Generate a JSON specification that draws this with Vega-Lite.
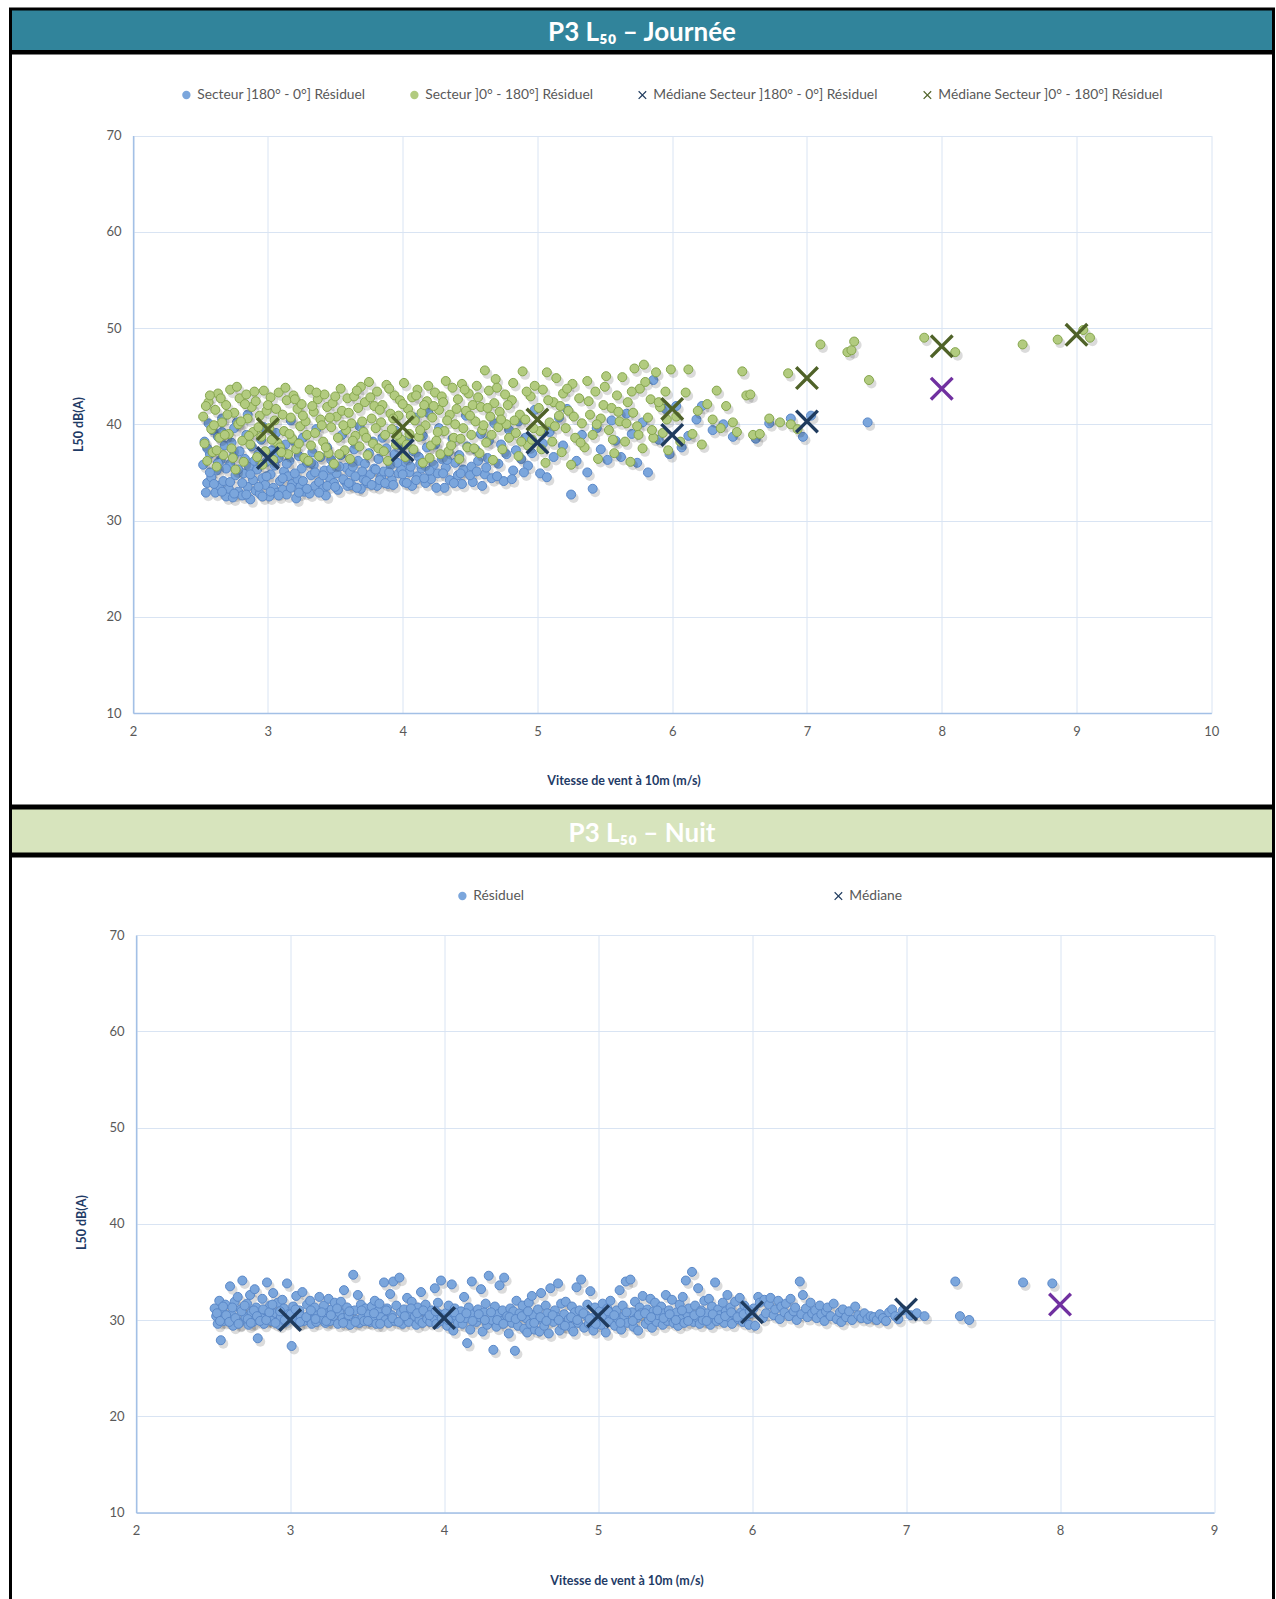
{
"$schema": "https://vega.github.io/schema/vega-lite/v6.json",
"padding": {"left": 8.5, "top": 7, "right": 0, "bottom": 0},
"background": "white",
"spacing": -3,
"config": {
  "font": "Lato",
  "view": {"stroke": null},
  "axis": {"labelFont": "Lato", "labelFontSize": 13, "labelColor": "#595959", "ticks": false, "gridColor": "#D9E4F3", "domainColor": "#A3C0E6", "domainWidth": 1.5, "titleFont": "Lato", "titleFontSize": 12.5, "titleFontWeight": "bold", "titleColor": "#1F3B66", "labelPadding": 12, "labelFlush": false},
  "legend": {"labelFont": "Lato", "labelFontSize": 13.8, "labelColor": "#595959", "labelLimit": 400}
},
"resolve": {"scale": {"color": "independent", "shape": "independent"}, "legend": {"color": "independent", "shape": "independent"}},
"datasets": {
  "h1": [{"t": "P3 L₅₀ – Journée"}],
  "h2": [{"t": "P3 L₅₀ – Nuit"}],
  "jourA": [
{"x":2.52,"y":35.8},{"x":2.53,"y":38.2},{"x":2.55,"y":33.9},{"x":2.56,"y":40.1},{"x":2.57,"y":36.9},{"x":2.58,"y":34.5},{"x":2.59,"y":39.4},{"x":2.55,"y":37.5},
{"x":2.61,"y":32.9},{"x":2.62,"y":35.2},{"x":2.63,"y":38.7},{"x":2.64,"y":33.6},{"x":2.65,"y":36.3},{"x":2.66,"y":40.6},{"x":2.67,"y":34.1},{"x":2.68,"y":37.8},{"x":2.69,"y":32.5},{"x":2.66,"y":39.2},
{"x":2.71,"y":33.3},{"x":2.72,"y":35.9},{"x":2.73,"y":38.1},{"x":2.74,"y":32.4},{"x":2.75,"y":36.8},{"x":2.76,"y":34.7},{"x":2.77,"y":40.2},{"x":2.78,"y":33.0},{"x":2.79,"y":37.2},{"x":2.75,"y":39.6},
{"x":2.81,"y":32.6},{"x":2.82,"y":34.9},{"x":2.83,"y":36.4},{"x":2.84,"y":38.9},{"x":2.85,"y":33.5},{"x":2.86,"y":35.6},{"x":2.87,"y":32.2},{"x":2.88,"y":37.7},{"x":2.89,"y":34.2},{"x":2.85,"y":41.0},
{"x":2.91,"y":33.1},{"x":2.92,"y":35.3},{"x":2.93,"y":36.9},{"x":2.94,"y":32.8},{"x":2.95,"y":38.4},{"x":2.96,"y":34.4},{"x":2.97,"y":39.7},{"x":2.98,"y":33.7},{"x":2.99,"y":36.1},
{"x":3.01,"y":32.5},{"x":3.02,"y":34.8},{"x":3.03,"y":37.3},{"x":3.04,"y":33.4},{"x":3.05,"y":35.7},{"x":3.06,"y":39.1},{"x":3.07,"y":32.9},{"x":3.08,"y":36.5},{"x":3.09,"y":34.1},
{"x":3.11,"y":33.2},{"x":3.12,"y":35.1},{"x":3.13,"y":37.9},{"x":3.14,"y":32.7},{"x":3.15,"y":34.6},{"x":3.16,"y":36.2},{"x":3.17,"y":40.4},{"x":3.18,"y":33.8},{"x":3.19,"y":38.3},
{"x":3.21,"y":32.3},{"x":3.22,"y":34.3},{"x":3.23,"y":36.7},{"x":3.24,"y":33.5},{"x":3.25,"y":35.4},{"x":3.26,"y":38.6},{"x":3.27,"y":33.0},{"x":3.29,"y":36.0},
{"x":3.31,"y":32.8},{"x":3.32,"y":34.7},{"x":3.33,"y":37.1},{"x":3.34,"y":35.8},{"x":3.35,"y":33.6},{"x":3.36,"y":39.5},{"x":3.38,"y":34.0},{"x":3.39,"y":36.6},
{"x":3.41,"y":33.3},{"x":3.42,"y":35.2},{"x":3.43,"y":32.6},{"x":3.44,"y":37.6},{"x":3.46,"y":34.4},{"x":3.47,"y":36.3},{"x":3.49,"y":33.9},
{"x":3.51,"y":34.9},{"x":3.52,"y":33.2},{"x":3.54,"y":36.8},{"x":3.55,"y":38.9},{"x":3.57,"y":34.1},{"x":3.58,"y":35.5},{"x":3.59,"y":33.6},
{"x":3.61,"y":35.0},{"x":3.62,"y":33.7},{"x":3.64,"y":37.4},{"x":3.65,"y":34.6},{"x":3.67,"y":36.2},{"x":3.68,"y":39.8},{"x":3.69,"y":33.3},
{"x":3.71,"y":34.3},{"x":3.72,"y":35.9},{"x":3.74,"y":33.9},{"x":3.75,"y":37.0},{"x":3.76,"y":34.8},{"x":3.78,"y":38.2},{"x":3.79,"y":35.4},
{"x":3.81,"y":33.6},{"x":3.82,"y":36.4},{"x":3.84,"y":34.5},{"x":3.85,"y":38.6},{"x":3.86,"y":35.1},{"x":3.88,"y":37.5},{"x":3.89,"y":33.8},
{"x":3.91,"y":35.7},{"x":3.92,"y":34.2},{"x":3.94,"y":36.9},{"x":3.95,"y":39.3},{"x":3.97,"y":34.9},{"x":3.98,"y":37.8},{"x":3.99,"y":35.3},
{"x":4.01,"y":34.0},{"x":4.02,"y":36.1},{"x":4.04,"y":38.4},{"x":4.05,"y":35.0},{"x":4.07,"y":33.6},{"x":4.08,"y":37.2},{"x":4.09,"y":40.7},
{"x":4.11,"y":34.6},{"x":4.12,"y":36.6},{"x":4.14,"y":35.4},{"x":4.15,"y":38.8},{"x":4.17,"y":33.9},{"x":4.18,"y":37.6},{"x":4.19,"y":41.2},
{"x":4.21,"y":34.3},{"x":4.23,"y":35.8},{"x":4.24,"y":37.9},{"x":4.26,"y":34.9},{"x":4.27,"y":39.6},{"x":4.29,"y":36.4},
{"x":4.31,"y":33.4},{"x":4.32,"y":35.5},{"x":4.34,"y":37.1},{"x":4.35,"y":34.2},{"x":4.37,"y":38.5},{"x":4.39,"y":36.0},
{"x":4.41,"y":34.7},{"x":4.42,"y":36.8},{"x":4.44,"y":33.8},{"x":4.45,"y":35.3},{"x":4.47,"y":40.9},{"x":4.48,"y":37.7},
{"x":4.51,"y":35.6},{"x":4.52,"y":34.0},{"x":4.54,"y":37.4},{"x":4.56,"y":36.2},{"x":4.58,"y":39.0},{"x":4.59,"y":33.6},
{"x":4.61,"y":34.8},{"x":4.63,"y":36.5},{"x":4.64,"y":38.3},{"x":4.66,"y":34.4},{"x":4.68,"y":40.1},
{"x":4.71,"y":35.9},{"x":4.73,"y":37.9},{"x":4.75,"y":34.1},{"x":4.77,"y":36.9},{"x":4.79,"y":39.4},
{"x":4.82,"y":35.2},{"x":4.84,"y":37.3},{"x":4.86,"y":40.3},{"x":4.88,"y":36.4},
{"x":4.91,"y":38.6},{"x":4.93,"y":35.7},{"x":4.96,"y":37.0},{"x":4.98,"y":41.5},
{"x":5.02,"y":34.9},{"x":5.04,"y":38.0},{"x":5.07,"y":34.5},{"x":5.09,"y":39.2},{"x":5.12,"y":36.6},{"x":5.16,"y":40.7},{"x":5.19,"y":37.8},{"x":5.22,"y":41.6},{"x":5.25,"y":32.7},{"x":5.29,"y":36.2},{"x":5.33,"y":38.9},{"x":5.37,"y":35.0},{"x":5.41,"y":33.3},{"x":5.44,"y":39.6},{"x":5.47,"y":37.4},
{"x":5.52,"y":36.3},{"x":5.55,"y":40.4},{"x":5.58,"y":38.3},{"x":5.62,"y":36.6},{"x":5.66,"y":41.1},{"x":5.7,"y":39.0},{"x":5.74,"y":36.0},{"x":5.78,"y":40.2},{"x":5.82,"y":35.0},{"x":5.86,"y":44.6},{"x":5.9,"y":38.4},{"x":5.95,"y":41.6},{"x":5.98,"y":36.9},
{"x":6.03,"y":41.9},{"x":6.07,"y":37.6},{"x":6.12,"y":38.8},{"x":6.18,"y":40.5},{"x":6.22,"y":41.9},{"x":6.3,"y":39.4},{"x":6.38,"y":40.0},{"x":6.45,"y":38.7},
{"x":6.62,"y":38.5},{"x":6.72,"y":40.1},{"x":6.88,"y":40.6},{"x":6.97,"y":38.7},{"x":7.03,"y":40.9},{"x":7.45,"y":40.2},
{"x":2.54,"y":32.9},{"x":2.57,"y":35.0},{"x":2.6,"y":33.8},{"x":2.63,"y":36.0},{"x":2.66,"y":33.0},{"x":2.69,"y":35.4},{"x":2.72,"y":34.0},{"x":2.75,"y":32.8},{"x":2.78,"y":35.3},{"x":2.81,"y":33.9},
{"x":2.84,"y":32.7},{"x":2.87,"y":34.8},{"x":2.9,"y":36.2},{"x":2.93,"y":33.5},{"x":2.96,"y":32.5},{"x":2.99,"y":34.6},{"x":3.02,"y":33.0},{"x":3.05,"y":36.9},{"x":3.08,"y":32.6},{"x":3.11,"y":34.4},
{"x":3.14,"y":35.9},{"x":3.17,"y":33.4},{"x":3.2,"y":34.9},{"x":3.23,"y":32.9},{"x":3.26,"y":34.1},{"x":3.29,"y":33.3},{"x":3.32,"y":36.0},{"x":3.35,"y":35.0},{"x":3.38,"y":32.9},{"x":3.41,"y":34.7},
{"x":3.44,"y":33.6},{"x":3.47,"y":35.4},{"x":3.5,"y":33.5},{"x":3.53,"y":35.6},{"x":3.56,"y":34.3},{"x":3.6,"y":33.9},{"x":3.63,"y":35.6},{"x":3.66,"y":33.4},{"x":3.7,"y":35.1},{"x":3.73,"y":34.1},
{"x":3.77,"y":33.7},{"x":3.8,"y":35.3},{"x":3.83,"y":34.2},{"x":3.87,"y":33.9},{"x":3.9,"y":35.0},{"x":3.93,"y":33.7},{"x":3.96,"y":36.0},{"x":4.0,"y":34.8},{"x":4.03,"y":33.9},{"x":4.06,"y":35.6},
{"x":4.1,"y":34.2},{"x":4.13,"y":35.9},{"x":4.16,"y":34.4},{"x":4.2,"y":35.2},{"x":4.25,"y":33.4},{"x":4.3,"y":34.9},{"x":4.33,"y":36.3},{"x":4.38,"y":33.9},{"x":4.43,"y":34.9},{"x":4.5,"y":34.7},
{"x":4.55,"y":35.1},{"x":4.62,"y":35.5},{"x":4.7,"y":34.6},{"x":4.81,"y":34.3},{"x":4.9,"y":35.0}
  ],
  "jourB": [
{"x":2.52,"y":40.8},{"x":2.53,"y":38.0},{"x":2.55,"y":36.2},{"x":2.56,"y":42.3},{"x":2.58,"y":39.5},{"x":2.59,"y":37.1},
{"x":2.61,"y":41.5},{"x":2.62,"y":35.6},{"x":2.63,"y":43.2},{"x":2.64,"y":38.6},{"x":2.66,"y":40.2},{"x":2.67,"y":36.8},{"x":2.69,"y":42.0},
{"x":2.71,"y":39.0},{"x":2.72,"y":43.6},{"x":2.73,"y":37.5},{"x":2.75,"y":41.2},{"x":2.76,"y":35.3},{"x":2.78,"y":40.0},{"x":2.79,"y":42.7},
{"x":2.81,"y":38.3},{"x":2.82,"y":36.1},{"x":2.84,"y":43.1},{"x":2.85,"y":40.6},{"x":2.87,"y":37.9},{"x":2.88,"y":41.8},{"x":2.89,"y":39.2},
{"x":2.91,"y":42.4},{"x":2.92,"y":36.6},{"x":2.94,"y":40.9},{"x":2.95,"y":38.7},{"x":2.97,"y":43.5},{"x":2.98,"y":37.2},{"x":2.99,"y":41.4},
{"x":3.01,"y":39.6},{"x":3.02,"y":42.8},{"x":3.04,"y":36.3},{"x":3.05,"y":40.4},{"x":3.07,"y":38.1},{"x":3.08,"y":43.3},{"x":3.09,"y":37.6},
{"x":3.11,"y":41.0},{"x":3.12,"y":39.3},{"x":3.14,"y":42.5},{"x":3.15,"y":36.9},{"x":3.17,"y":40.7},{"x":3.18,"y":38.5},{"x":3.19,"y":43.0},
{"x":3.21,"y":37.4},{"x":3.22,"y":41.6},{"x":3.24,"y":39.8},{"x":3.25,"y":42.1},{"x":3.27,"y":36.5},{"x":3.28,"y":40.3},{"x":3.29,"y":38.9},
{"x":3.31,"y":43.6},{"x":3.32,"y":37.8},{"x":3.34,"y":41.3},{"x":3.35,"y":39.1},{"x":3.37,"y":42.6},{"x":3.38,"y":36.7},{"x":3.39,"y":40.5},
{"x":3.41,"y":38.2},{"x":3.42,"y":43.1},{"x":3.44,"y":41.8},{"x":3.45,"y":37.0},{"x":3.47,"y":39.7},{"x":3.48,"y":42.2},{"x":3.49,"y":35.9},
{"x":3.51,"y":40.8},{"x":3.52,"y":38.6},{"x":3.54,"y":43.7},{"x":3.55,"y":41.4},{"x":3.57,"y":37.3},{"x":3.58,"y":39.4},{"x":3.59,"y":42.7},
{"x":3.61,"y":36.4},{"x":3.62,"y":40.1},{"x":3.64,"y":42.9},{"x":3.65,"y":38.8},{"x":3.67,"y":41.7},{"x":3.68,"y":37.7},{"x":3.69,"y":43.9},
{"x":3.71,"y":39.2},{"x":3.72,"y":42.3},{"x":3.74,"y":36.8},{"x":3.75,"y":44.4},{"x":3.77,"y":40.6},{"x":3.78,"y":38.0},{"x":3.79,"y":41.9},
{"x":3.81,"y":43.4},{"x":3.82,"y":37.5},{"x":3.84,"y":40.2},{"x":3.85,"y":42.0},{"x":3.87,"y":38.9},{"x":3.88,"y":44.1},{"x":3.89,"y":36.2},
{"x":3.91,"y":41.1},{"x":3.92,"y":39.5},{"x":3.94,"y":43.0},{"x":3.95,"y":37.9},{"x":3.97,"y":40.9},{"x":3.98,"y":42.5},{"x":3.99,"y":38.4},
{"x":4.01,"y":44.3},{"x":4.02,"y":36.6},{"x":4.04,"y":41.6},{"x":4.05,"y":39.0},{"x":4.07,"y":42.8},{"x":4.08,"y":37.4},{"x":4.09,"y":40.4},
{"x":4.11,"y":43.6},{"x":4.12,"y":38.7},{"x":4.14,"y":41.2},{"x":4.15,"y":36.0},{"x":4.17,"y":39.9},{"x":4.18,"y":42.4},{"x":4.19,"y":44.0},
{"x":4.21,"y":37.8},{"x":4.22,"y":40.7},{"x":4.24,"y":43.3},{"x":4.25,"y":38.3},{"x":4.27,"y":41.5},{"x":4.28,"y":36.9},{"x":4.29,"y":42.9},
{"x":4.31,"y":39.3},{"x":4.32,"y":44.5},{"x":4.34,"y":37.2},{"x":4.35,"y":41.0},{"x":4.37,"y":43.8},{"x":4.38,"y":38.6},{"x":4.39,"y":40.0},
{"x":4.41,"y":42.6},{"x":4.42,"y":36.4},{"x":4.44,"y":44.2},{"x":4.45,"y":39.6},{"x":4.47,"y":41.4},{"x":4.48,"y":37.6},{"x":4.49,"y":43.2},
{"x":4.51,"y":38.9},{"x":4.52,"y":42.0},{"x":4.54,"y":40.3},{"x":4.55,"y":44.0},{"x":4.57,"y":37.0},{"x":4.58,"y":41.8},{"x":4.59,"y":39.4},
{"x":4.61,"y":45.6},{"x":4.62,"y":38.1},{"x":4.64,"y":43.5},{"x":4.65,"y":40.8},{"x":4.67,"y":36.3},{"x":4.68,"y":42.2},{"x":4.69,"y":44.7},
{"x":4.71,"y":39.7},{"x":4.72,"y":41.3},{"x":4.74,"y":37.4},{"x":4.76,"y":43.1},{"x":4.77,"y":40.0},{"x":4.79,"y":38.6},
{"x":4.81,"y":42.5},{"x":4.82,"y":44.3},{"x":4.84,"y":39.1},{"x":4.86,"y":36.7},{"x":4.87,"y":41.0},{"x":4.89,"y":45.5},
{"x":4.91,"y":40.5},{"x":4.93,"y":37.8},{"x":4.95,"y":42.9},{"x":4.96,"y":38.4},{"x":4.98,"y":44.0},
{"x":5.01,"y":41.7},{"x":5.02,"y":39.3},{"x":5.04,"y":43.6},{"x":5.06,"y":36.0},{"x":5.07,"y":45.4},{"x":5.09,"y":40.2},
{"x":5.11,"y":38.2},{"x":5.12,"y":42.3},{"x":5.14,"y":44.8},{"x":5.16,"y":40.9},{"x":5.18,"y":37.1},{"x":5.19,"y":43.2},
{"x":5.21,"y":39.6},{"x":5.23,"y":41.4},{"x":5.25,"y":35.8},{"x":5.26,"y":44.2},{"x":5.28,"y":38.6},
{"x":5.31,"y":42.7},{"x":5.33,"y":40.1},{"x":5.35,"y":37.6},{"x":5.37,"y":44.5},{"x":5.39,"y":41.0},
{"x":5.41,"y":38.9},{"x":5.43,"y":43.4},{"x":5.45,"y":36.4},{"x":5.47,"y":40.6},{"x":5.49,"y":42.0},
{"x":5.51,"y":45.0},{"x":5.53,"y":39.4},{"x":5.55,"y":41.7},{"x":5.57,"y":37.0},{"x":5.59,"y":43.0},
{"x":5.61,"y":40.3},{"x":5.63,"y":44.9},{"x":5.65,"y":38.2},{"x":5.67,"y":42.3},{"x":5.69,"y":36.1},
{"x":5.71,"y":41.2},{"x":5.72,"y":45.8},{"x":5.74,"y":39.8},{"x":5.76,"y":43.7},{"x":5.78,"y":37.5},{"x":5.79,"y":46.2},
{"x":5.82,"y":40.7},{"x":5.84,"y":42.6},{"x":5.86,"y":38.6},{"x":5.88,"y":45.4},
{"x":5.91,"y":41.8},{"x":5.93,"y":39.1},{"x":5.95,"y":43.4},{"x":5.97,"y":37.3},{"x":5.99,"y":45.7},
{"x":6.03,"y":40.8},{"x":6.06,"y":38.2},{"x":6.1,"y":43.3},{"x":6.12,"y":45.7},{"x":6.15,"y":39.0},{"x":6.19,"y":41.4},{"x":6.22,"y":37.9},{"x":6.26,"y":42.1},{"x":6.3,"y":40.5},{"x":6.33,"y":43.5},{"x":6.36,"y":39.6},{"x":6.4,"y":41.9},{"x":6.45,"y":40.2},{"x":6.48,"y":39.2},
{"x":6.52,"y":45.5},{"x":6.55,"y":43.0},{"x":6.58,"y":43.1},{"x":6.6,"y":38.9},{"x":6.65,"y":39.0},{"x":6.72,"y":40.6},{"x":6.8,"y":40.2},{"x":6.86,"y":45.3},{"x":6.88,"y":40.0},{"x":6.93,"y":39.5},
{"x":7.1,"y":48.3},{"x":7.3,"y":47.5},{"x":7.33,"y":47.7},{"x":7.35,"y":48.6},{"x":7.46,"y":44.6},
{"x":7.87,"y":49.0},{"x":8.1,"y":47.5},{"x":8.6,"y":48.3},{"x":8.86,"y":48.8},{"x":9.05,"y":49.8},{"x":9.1,"y":49.0},
{"x":2.54,"y":41.9},{"x":2.57,"y":43.0},{"x":2.6,"y":39.9},{"x":2.62,"y":37.3},{"x":2.65,"y":42.7},{"x":2.68,"y":38.9},{"x":2.7,"y":41.0},{"x":2.74,"y":36.5},{"x":2.77,"y":43.9},{"x":2.8,"y":40.3},
{"x":2.83,"y":42.1},{"x":2.86,"y":38.8},{"x":2.9,"y":43.4},{"x":2.93,"y":39.7},{"x":2.96,"y":35.8},{"x":3.0,"y":42.0},{"x":3.03,"y":38.4},{"x":3.06,"y":41.6},{"x":3.1,"y":37.1},{"x":3.13,"y":43.8},
{"x":3.16,"y":39.0},{"x":3.2,"y":42.6},{"x":3.23,"y":38.0},{"x":3.26,"y":40.9},{"x":3.3,"y":36.2},{"x":3.33,"y":41.9},{"x":3.36,"y":43.3},{"x":3.4,"y":39.9},{"x":3.43,"y":37.6},{"x":3.46,"y":40.7},
{"x":3.5,"y":42.9},{"x":3.53,"y":36.9},{"x":3.56,"y":39.9},{"x":3.6,"y":41.2},{"x":3.63,"y":38.3},{"x":3.66,"y":43.5},{"x":3.7,"y":40.3},{"x":3.73,"y":38.6},{"x":3.76,"y":42.8},{"x":3.8,"y":39.6},
{"x":3.83,"y":41.5},{"x":3.86,"y":37.2},{"x":3.9,"y":43.7},{"x":3.93,"y":40.6},{"x":3.96,"y":38.9},{"x":4.0,"y":42.1},{"x":4.03,"y":37.9},{"x":4.06,"y":40.9},{"x":4.1,"y":43.0},{"x":4.13,"y":39.4},
{"x":4.16,"y":42.0},{"x":4.2,"y":36.5},{"x":4.23,"y":41.9},{"x":4.26,"y":39.2},{"x":4.3,"y":42.3},{"x":4.33,"y":40.4},{"x":4.36,"y":37.8},{"x":4.4,"y":41.6},{"x":4.43,"y":38.5},{"x":4.46,"y":43.6},
{"x":4.5,"y":40.9},{"x":4.53,"y":37.5},{"x":4.56,"y":42.8},{"x":4.6,"y":39.9},{"x":4.63,"y":41.7},{"x":4.66,"y":38.9},{"x":4.7,"y":43.8},{"x":4.73,"y":40.5},{"x":4.78,"y":42.0},{"x":4.83,"y":40.4},
{"x":4.88,"y":38.2},{"x":4.92,"y":43.4},{"x":4.97,"y":39.6},{"x":5.03,"y":37.4},{"x":5.08,"y":42.5},{"x":5.13,"y":39.8},{"x":5.17,"y":41.9},{"x":5.22,"y":43.7},{"x":5.27,"y":40.8},{"x":5.32,"y":38.1},
{"x":5.38,"y":42.4},{"x":5.44,"y":40.0},{"x":5.5,"y":43.9},{"x":5.56,"y":38.4},{"x":5.6,"y":41.3},{"x":5.66,"y":40.1},{"x":5.7,"y":43.4},{"x":5.75,"y":38.9},{"x":5.8,"y":44.4},{"x":5.85,"y":39.4},
{"x":5.9,"y":42.3},{"x":5.96,"y":40.5}
  ],
  "medJA": [{"x":3,"y":36.5},{"x":4,"y":37.3},{"x":5,"y":38.1},{"x":6,"y":38.9},{"x":7,"y":40.3}],
  "medJB": [{"x":3,"y":39.5},{"x":4,"y":39.7},{"x":5,"y":40.5},{"x":6,"y":41.6},{"x":7,"y":44.8},{"x":8,"y":48.1},{"x":9,"y":49.3}],
  "purJ": [{"x":8,"y":43.7}],
  "nuit": [
{"x":2.51,"y":31.2},{"x":2.52,"y":30.4},{"x":2.53,"y":29.6},{"x":2.54,"y":32.0},{"x":2.55,"y":27.9},{"x":2.56,"y":30.9},{"x":2.57,"y":29.9},{"x":2.58,"y":31.6},{"x":2.59,"y":30.2},
{"x":2.61,"y":33.5},{"x":2.62,"y":30.6},{"x":2.63,"y":29.4},{"x":2.64,"y":31.9},{"x":2.65,"y":30.0},{"x":2.66,"y":32.4},{"x":2.67,"y":29.7},{"x":2.68,"y":31.1},{"x":2.69,"y":34.1},
{"x":2.71,"y":30.3},{"x":2.72,"y":31.7},{"x":2.73,"y":29.5},{"x":2.74,"y":32.6},{"x":2.75,"y":30.8},{"x":2.76,"y":29.8},{"x":2.77,"y":33.2},{"x":2.78,"y":31.3},{"x":2.79,"y":28.1},
{"x":2.81,"y":30.5},{"x":2.82,"y":32.2},{"x":2.83,"y":29.6},{"x":2.84,"y":31.0},{"x":2.85,"y":33.9},{"x":2.86,"y":30.1},{"x":2.87,"y":31.5},{"x":2.88,"y":29.9},{"x":2.89,"y":32.8},
{"x":2.91,"y":30.7},{"x":2.92,"y":31.8},{"x":2.93,"y":29.5},{"x":2.94,"y":30.3},{"x":2.95,"y":32.1},{"x":2.96,"y":31.2},{"x":2.97,"y":29.8},{"x":2.98,"y":33.8},{"x":2.99,"y":30.6},
{"x":3.01,"y":27.3},{"x":3.02,"y":31.4},{"x":3.03,"y":30.0},{"x":3.04,"y":32.5},{"x":3.05,"y":29.7},{"x":3.06,"y":31.0},{"x":3.07,"y":30.4},{"x":3.08,"y":32.9},{"x":3.09,"y":29.9},
{"x":3.11,"y":31.6},{"x":3.12,"y":30.2},{"x":3.13,"y":32.0},{"x":3.14,"y":29.6},{"x":3.15,"y":30.9},{"x":3.16,"y":31.3},{"x":3.17,"y":29.8},{"x":3.18,"y":30.5},{"x":3.19,"y":32.4},
{"x":3.21,"y":30.1},{"x":3.22,"y":31.5},{"x":3.23,"y":29.7},{"x":3.24,"y":30.7},{"x":3.25,"y":32.2},{"x":3.26,"y":29.9},{"x":3.27,"y":31.1},{"x":3.28,"y":30.4},{"x":3.29,"y":31.8},
{"x":3.31,"y":29.6},{"x":3.32,"y":30.8},{"x":3.33,"y":31.9},{"x":3.34,"y":30.2},{"x":3.35,"y":33.1},{"x":3.36,"y":29.8},{"x":3.37,"y":31.3},{"x":3.38,"y":30.5},{"x":3.39,"y":29.5},
{"x":3.41,"y":34.7},{"x":3.42,"y":31.0},{"x":3.43,"y":30.0},{"x":3.44,"y":32.6},{"x":3.45,"y":29.7},{"x":3.46,"y":31.6},{"x":3.47,"y":30.3},{"x":3.48,"y":29.9},{"x":3.49,"y":31.2},
{"x":3.51,"y":30.6},{"x":3.52,"y":29.8},{"x":3.53,"y":31.4},{"x":3.54,"y":30.1},{"x":3.55,"y":32.0},{"x":3.56,"y":29.6},{"x":3.57,"y":30.9},{"x":3.58,"y":31.7},{"x":3.59,"y":30.3},
{"x":3.61,"y":33.9},{"x":3.62,"y":30.0},{"x":3.63,"y":31.2},{"x":3.64,"y":29.7},{"x":3.65,"y":32.7},{"x":3.66,"y":30.5},{"x":3.67,"y":34.0},{"x":3.68,"y":29.9},{"x":3.69,"y":31.5},
{"x":3.71,"y":34.4},{"x":3.72,"y":30.8},{"x":3.73,"y":29.6},{"x":3.74,"y":31.1},{"x":3.75,"y":30.2},{"x":3.76,"y":32.3},{"x":3.77,"y":29.8},{"x":3.78,"y":30.6},{"x":3.79,"y":31.9},
{"x":3.81,"y":30.4},{"x":3.82,"y":29.5},{"x":3.83,"y":31.3},{"x":3.84,"y":30.0},{"x":3.85,"y":32.9},{"x":3.86,"y":29.7},{"x":3.87,"y":30.9},{"x":3.88,"y":31.6},{"x":3.89,"y":30.1},
{"x":3.91,"y":29.8},{"x":3.92,"y":31.0},{"x":3.93,"y":30.3},{"x":3.94,"y":33.3},{"x":3.95,"y":29.6},{"x":3.96,"y":31.8},{"x":3.97,"y":30.6},{"x":3.98,"y":34.1},{"x":3.99,"y":29.9},
{"x":4.01,"y":30.7},{"x":4.02,"y":29.4},{"x":4.03,"y":31.5},{"x":4.04,"y":30.1},{"x":4.05,"y":33.7},{"x":4.06,"y":28.9},{"x":4.07,"y":31.2},{"x":4.08,"y":30.4},{"x":4.09,"y":29.7},
{"x":4.11,"y":30.9},{"x":4.12,"y":29.6},{"x":4.13,"y":32.4},{"x":4.14,"y":30.2},{"x":4.15,"y":27.6},{"x":4.16,"y":31.3},{"x":4.17,"y":29.0},{"x":4.18,"y":34.0},{"x":4.19,"y":30.6},
{"x":4.21,"y":29.8},{"x":4.22,"y":31.1},{"x":4.23,"y":30.3},{"x":4.24,"y":33.2},{"x":4.25,"y":28.8},{"x":4.26,"y":30.8},{"x":4.27,"y":31.7},{"x":4.28,"y":29.5},{"x":4.29,"y":34.6},
{"x":4.31,"y":30.0},{"x":4.32,"y":26.9},{"x":4.33,"y":31.4},{"x":4.34,"y":29.3},{"x":4.35,"y":30.6},{"x":4.36,"y":33.6},{"x":4.37,"y":29.9},{"x":4.38,"y":31.0},{"x":4.39,"y":34.4},
{"x":4.41,"y":30.4},{"x":4.42,"y":28.6},{"x":4.43,"y":31.2},{"x":4.44,"y":29.7},{"x":4.45,"y":30.9},{"x":4.46,"y":26.8},{"x":4.47,"y":32.0},{"x":4.48,"y":29.4},{"x":4.49,"y":30.7},
{"x":4.51,"y":31.5},{"x":4.52,"y":29.1},{"x":4.53,"y":30.2},{"x":4.54,"y":28.7},{"x":4.55,"y":31.8},{"x":4.56,"y":29.6},{"x":4.57,"y":32.5},{"x":4.58,"y":30.5},{"x":4.59,"y":29.0},
{"x":4.61,"y":31.1},{"x":4.62,"y":28.8},{"x":4.63,"y":32.8},{"x":4.64,"y":30.0},{"x":4.65,"y":29.4},{"x":4.66,"y":31.5},{"x":4.67,"y":30.7},{"x":4.68,"y":28.6},{"x":4.69,"y":33.3},
{"x":4.71,"y":29.8},{"x":4.72,"y":31.0},{"x":4.73,"y":30.3},{"x":4.74,"y":33.8},{"x":4.75,"y":28.9},{"x":4.76,"y":31.7},{"x":4.77,"y":29.5},{"x":4.78,"y":30.6},{"x":4.79,"y":31.9},
{"x":4.81,"y":30.1},{"x":4.82,"y":29.3},{"x":4.83,"y":31.4},{"x":4.84,"y":28.8},{"x":4.85,"y":30.8},{"x":4.86,"y":33.4},{"x":4.87,"y":29.7},{"x":4.88,"y":31.0},{"x":4.89,"y":34.2},
{"x":4.91,"y":29.2},{"x":4.92,"y":30.5},{"x":4.93,"y":31.6},{"x":4.94,"y":29.6},{"x":4.95,"y":33.0},{"x":4.96,"y":30.2},{"x":4.97,"y":28.9},{"x":4.98,"y":31.3},{"x":4.99,"y":30.0},
{"x":5.01,"y":30.9},{"x":5.02,"y":29.5},{"x":5.03,"y":31.7},{"x":5.04,"y":30.3},{"x":5.05,"y":28.7},{"x":5.06,"y":31.2},{"x":5.07,"y":29.8},{"x":5.08,"y":32.0},{"x":5.09,"y":30.6},
{"x":5.11,"y":29.4},{"x":5.12,"y":31.0},{"x":5.13,"y":30.1},{"x":5.14,"y":33.1},{"x":5.15,"y":29.0},{"x":5.16,"y":31.5},{"x":5.17,"y":30.4},{"x":5.18,"y":34.0},{"x":5.19,"y":29.7},
{"x":5.21,"y":34.2},{"x":5.22,"y":30.8},{"x":5.23,"y":29.3},{"x":5.24,"y":31.9},{"x":5.25,"y":30.2},{"x":5.26,"y":28.9},{"x":5.27,"y":31.3},{"x":5.28,"y":30.7},{"x":5.29,"y":32.5},
{"x":5.31,"y":29.6},{"x":5.32,"y":31.1},{"x":5.33,"y":30.0},{"x":5.34,"y":32.2},{"x":5.35,"y":29.2},{"x":5.36,"y":30.9},{"x":5.37,"y":31.8},{"x":5.38,"y":29.8},{"x":5.39,"y":30.5},
{"x":5.41,"y":31.4},{"x":5.42,"y":29.5},{"x":5.43,"y":30.7},{"x":5.44,"y":32.6},{"x":5.45,"y":29.9},{"x":5.46,"y":31.0},{"x":5.47,"y":30.3},{"x":5.48,"y":32.1},{"x":5.49,"y":29.7},
{"x":5.51,"y":30.8},{"x":5.52,"y":29.4},{"x":5.53,"y":31.6},{"x":5.54,"y":30.1},{"x":5.55,"y":32.4},{"x":5.56,"y":29.7},{"x":5.57,"y":34.1},{"x":5.58,"y":30.6},{"x":5.59,"y":31.2},
{"x":5.61,"y":35.0},{"x":5.62,"y":29.8},{"x":5.63,"y":31.5},{"x":5.64,"y":30.3},{"x":5.65,"y":33.3},{"x":5.66,"y":29.6},{"x":5.67,"y":31.0},{"x":5.68,"y":30.0},{"x":5.69,"y":32.0},
{"x":5.71,"y":30.7},{"x":5.72,"y":32.2},{"x":5.73,"y":29.5},{"x":5.74,"y":31.4},{"x":5.75,"y":30.2},{"x":5.76,"y":33.9},{"x":5.77,"y":29.9},{"x":5.78,"y":31.1},{"x":5.79,"y":30.5},
{"x":5.81,"y":31.8},{"x":5.82,"y":29.7},{"x":5.83,"y":30.9},{"x":5.84,"y":32.6},{"x":5.85,"y":30.3},{"x":5.86,"y":31.3},{"x":5.87,"y":29.6},{"x":5.88,"y":30.6},{"x":5.89,"y":31.9},
{"x":5.91,"y":30.1},{"x":5.92,"y":32.3},{"x":5.93,"y":30.8},{"x":5.94,"y":29.8},{"x":5.95,"y":31.5},{"x":5.96,"y":30.4},{"x":5.97,"y":31.0},{"x":5.98,"y":29.5},{"x":5.99,"y":30.7},
{"x":6.01,"y":31.2},{"x":6.02,"y":29.4},{"x":6.04,"y":32.4},{"x":6.05,"y":31.8},{"x":6.07,"y":30.2},{"x":6.08,"y":32.1},{"x":6.09,"y":30.7},
{"x":6.11,"y":31.6},{"x":6.12,"y":32.3},{"x":6.14,"y":30.5},{"x":6.15,"y":31.1},{"x":6.17,"y":32.0},{"x":6.18,"y":30.1},{"x":6.19,"y":31.4},
{"x":6.21,"y":30.8},{"x":6.22,"y":31.7},{"x":6.24,"y":30.4},{"x":6.25,"y":32.2},{"x":6.27,"y":30.9},{"x":6.28,"y":31.3},{"x":6.29,"y":30.0},
{"x":6.31,"y":34.0},{"x":6.32,"y":30.6},{"x":6.33,"y":32.6},{"x":6.35,"y":31.2},{"x":6.36,"y":30.3},{"x":6.38,"y":31.8},{"x":6.39,"y":30.7},
{"x":6.41,"y":31.0},{"x":6.42,"y":30.2},{"x":6.44,"y":31.5},{"x":6.45,"y":30.6},{"x":6.47,"y":29.9},{"x":6.48,"y":30.9},{"x":6.49,"y":31.3},
{"x":6.51,"y":30.4},{"x":6.53,"y":31.7},{"x":6.55,"y":30.1},{"x":6.57,"y":30.8},{"x":6.58,"y":29.8},{"x":6.59,"y":31.1},
{"x":6.61,"y":30.3},{"x":6.63,"y":30.9},{"x":6.65,"y":30.0},{"x":6.67,"y":31.4},{"x":6.69,"y":30.5},
{"x":6.71,"y":30.2},{"x":6.73,"y":30.7},{"x":6.75,"y":30.1},{"x":6.77,"y":30.4},{"x":6.79,"y":30.3},
{"x":6.81,"y":30.0},{"x":6.83,"y":30.6},{"x":6.85,"y":30.2},{"x":6.87,"y":29.9},{"x":6.89,"y":30.8},
{"x":6.91,"y":31.1},{"x":6.93,"y":30.4},{"x":6.95,"y":30.1},{"x":6.98,"y":31.0},{"x":7.03,"y":30.5},{"x":7.07,"y":30.7},{"x":7.12,"y":30.4},
{"x":7.32,"y":34.0},{"x":7.35,"y":30.4},{"x":7.41,"y":30.0},{"x":7.76,"y":33.9},{"x":7.95,"y":33.8},
{"x":2.525,"y":30.7},{"x":2.545,"y":29.9},{"x":2.565,"y":31.4},{"x":2.585,"y":30.5},{"x":2.605,"y":29.8},{"x":2.625,"y":31.3},{"x":2.645,"y":30.2},{"x":2.665,"y":29.6},{"x":2.685,"y":30.9},{"x":2.705,"y":31.5},
{"x":2.725,"y":30.1},{"x":2.745,"y":29.7},{"x":2.765,"y":31.0},{"x":2.785,"y":30.4},{"x":2.805,"y":29.9},{"x":2.825,"y":31.1},{"x":2.845,"y":30.0},{"x":2.865,"y":30.8},{"x":2.885,"y":31.6},{"x":2.905,"y":29.7},
{"x":2.935,"y":30.9},{"x":2.965,"y":30.0},{"x":3.005,"y":30.6},{"x":3.035,"y":31.1},{"x":3.065,"y":29.8},{"x":3.105,"y":30.3},{"x":3.135,"y":31.0},{"x":3.165,"y":30.1},{"x":3.205,"y":30.8},{"x":3.235,"y":29.9},
{"x":3.265,"y":30.5},{"x":3.305,"y":31.2},{"x":3.345,"y":29.7},{"x":3.385,"y":30.9},{"x":3.425,"y":29.8},{"x":3.465,"y":31.0},{"x":3.505,"y":29.9},{"x":3.545,"y":30.7},{"x":3.585,"y":29.6},{"x":3.625,"y":31.0},
{"x":3.665,"y":30.2},{"x":3.705,"y":29.8},{"x":3.745,"y":30.4},{"x":3.785,"y":31.2},{"x":3.825,"y":30.7},{"x":3.865,"y":31.0},{"x":3.905,"y":30.5},{"x":3.945,"y":30.9},{"x":3.985,"y":30.2},{"x":4.025,"y":30.0},
{"x":4.065,"y":30.8},{"x":4.105,"y":30.2},{"x":4.145,"y":30.7},{"x":4.185,"y":29.9},{"x":4.225,"y":30.6},{"x":4.265,"y":30.0},{"x":4.305,"y":30.8},{"x":4.345,"y":30.0},{"x":4.385,"y":29.6},{"x":4.425,"y":30.3},
{"x":4.465,"y":30.1},{"x":4.505,"y":30.4},{"x":4.545,"y":30.9},{"x":4.585,"y":29.7},{"x":4.625,"y":30.3},{"x":4.665,"y":29.9},{"x":4.705,"y":30.5},{"x":4.745,"y":30.0},{"x":4.785,"y":29.4},{"x":4.825,"y":30.3},
{"x":4.865,"y":30.0},{"x":4.905,"y":30.7},{"x":4.945,"y":30.1},{"x":4.985,"y":29.6},{"x":5.025,"y":30.4},{"x":5.065,"y":30.9},{"x":5.105,"y":30.5},{"x":5.145,"y":29.7},{"x":5.185,"y":30.8},{"x":5.225,"y":29.9},
{"x":5.265,"y":30.5},{"x":5.305,"y":30.7},{"x":5.345,"y":30.3},{"x":5.385,"y":31.0},{"x":5.425,"y":30.2},{"x":5.465,"y":30.6},{"x":5.505,"y":30.0},{"x":5.545,"y":31.0},{"x":5.585,"y":29.9},{"x":5.625,"y":30.5},
{"x":5.665,"y":30.8},{"x":5.705,"y":29.9},{"x":5.745,"y":30.6},{"x":5.785,"y":30.1},{"x":5.825,"y":30.4},{"x":5.865,"y":30.8},{"x":5.905,"y":30.3},{"x":5.945,"y":30.6},{"x":5.985,"y":30.9}
  ],
  "medN": [{"x":3,"y":30.0},{"x":4,"y":30.2},{"x":5,"y":30.4},{"x":6,"y":30.8},{"x":7,"y":31.1}],
  "purN": [{"x":8,"y":31.6}]
},
"vconcat": [
  {
    "width": 1263, "height": 42.5,
    "view": {"fill": "#31849B", "stroke": "#000000", "strokeWidth": 3},
    "data": {"name": "h1"},
    "mark": {"type": "text", "color": "white", "fontSize": 26, "fontWeight": "bold", "font": "Lato", "dy": 3},
    "encoding": {"text": {"field": "t", "type": "nominal"}}
  },
  {
    "width": 1263, "height": 753,
    "view": {"fill": "white", "stroke": "#000000", "strokeWidth": 3},
    "encoding": {
      "x": {"field": "x", "type": "quantitative", "scale": {"domain": [2, 10], "range": [122.6, 1200.8], "nice": false, "zero": false},
            "axis": {"orient": "top", "values": [2,3,4,5,6,7,8,9,10], "offset": -660, "labelBaseline": "top", "labelPadding": -12, "title": "Vitesse de vent à 10m (m/s)", "titleX": 613, "titleY": 67, "titleAlign": "center", "titleBaseline": "middle", "grid": true}},
      "y": {"field": "y", "type": "quantitative", "scale": {"domain": [10, 70], "range": [660, 82.6], "nice": false, "zero": false},
            "axis": {"values": [10,20,30,40,50,60,70], "offset": -122.6, "title": "L50 dB(A)", "titleX": -55, "titleY": 371, "titleAngle": -90, "titleAlign": "center", "titleBaseline": "middle", "grid": true}}
    },
    "layer": [
      {
        "data": {"name": "jourA"},
        "mark": {"type": "point", "filled": true, "size": 100, "opacity": 0.14, "color": "#000000", "xOffset": 2.5, "yOffset": 3.5}
      },
      {
        "data": {"name": "jourA"},
        "mark": {"type": "point", "filled": true, "size": 81, "opacity": 1, "stroke": "#5A88C8", "strokeWidth": 1},
        "encoding": {
          "color": {"datum": "Secteur ]180° - 0°] Résiduel", "scale": {"domain": ["Secteur ]180° - 0°] Résiduel", "Secteur ]0° - 180°] Résiduel", "Médiane Secteur ]180° - 0°] Résiduel", "Médiane Secteur ]0° - 180°] Résiduel"], "range": ["#7BA6DC", "#B2CB7F", "#1F3B5E", "#4F6228"]},
                    "legend": {"orient": "none", "legendX": 169, "legendY": 35, "direction": "horizontal", "columns": 4, "columnPadding": 42, "title": null, "symbolSize": 70, "symbolStrokeWidth": 0}},
          "shape": {"datum": "Secteur ]180° - 0°] Résiduel", "scale": {"domain": ["Secteur ]180° - 0°] Résiduel", "Secteur ]0° - 180°] Résiduel", "Médiane Secteur ]180° - 0°] Résiduel", "Médiane Secteur ]0° - 180°] Résiduel"], "range": ["circle", "circle", "M-1,-0.8L-0.2,0L-1,0.8L-0.8,1L0,0.2L0.8,1L1,0.8L0.2,0L1,-0.8L0.8,-1L0,-0.2L-0.8,-1Z", "M-1,-0.8L-0.2,0L-1,0.8L-0.8,1L0,0.2L0.8,1L1,0.8L0.2,0L1,-0.8L0.8,-1L0,-0.2L-0.8,-1Z"]},
                    "legend": {"orient": "none", "legendX": 169, "legendY": 35, "direction": "horizontal", "columns": 4, "columnPadding": 42, "title": null, "symbolSize": 70, "symbolStrokeWidth": 0}}
        }
      },
      {
        "data": {"name": "jourB"},
        "mark": {"type": "point", "filled": true, "size": 100, "opacity": 0.14, "color": "#000000", "xOffset": 2.5, "yOffset": 3.5}
      },
      {
        "data": {"name": "jourB"},
        "mark": {"type": "point", "filled": true, "size": 81, "opacity": 1, "stroke": "#86A64E", "strokeWidth": 1},
        "encoding": {
          "color": {"datum": "Secteur ]0° - 180°] Résiduel"},
          "shape": {"datum": "Secteur ]0° - 180°] Résiduel"}
        }
      },
      {
        "data": {"name": "medJA"},
        "mark": {"type": "point", "filled": true, "size": 576, "opacity": 1},
        "encoding": {
          "color": {"datum": "Médiane Secteur ]180° - 0°] Résiduel"},
          "shape": {"datum": "Médiane Secteur ]180° - 0°] Résiduel"}
        }
      },
      {
        "data": {"name": "medJB"},
        "mark": {"type": "point", "filled": true, "size": 576, "opacity": 1},
        "encoding": {
          "color": {"datum": "Médiane Secteur ]0° - 180°] Résiduel"},
          "shape": {"datum": "Médiane Secteur ]0° - 180°] Résiduel"}
        }
      },
      {
        "data": {"name": "purJ"},
        "mark": {"type": "point", "filled": true, "size": 576, "opacity": 1, "color": "#7030A0", "shape": "M-1,-0.8L-0.2,0L-1,0.8L-0.8,1L0,0.2L0.8,1L1,0.8L0.2,0L1,-0.8L0.8,-1L0,-0.2L-0.8,-1Z"},
        "encoding": {}
      }
    ]
  },
  {
    "width": 1263, "height": 46,
    "view": {"fill": "#D7E4BD", "stroke": "#000000", "strokeWidth": 3},
    "data": {"name": "h2"},
    "mark": {"type": "text", "color": "white", "fontSize": 26, "fontWeight": "bold", "font": "Lato", "dy": 3},
    "encoding": {"text": {"field": "t", "type": "nominal"}}
  },
  {
    "width": 1263, "height": 746,
    "view": {"fill": "white", "stroke": "#000000", "strokeWidth": 3},
    "encoding": {
      "x": {"field": "x", "type": "quantitative", "scale": {"domain": [2, 9], "range": [125.6, 1203.5], "nice": false, "zero": false},
            "axis": {"orient": "top", "values": [2,3,4,5,6,7,8,9], "offset": -656.5, "labelBaseline": "top", "labelPadding": -12, "title": "Vitesse de vent à 10m (m/s)", "titleX": 616, "titleY": 67.5, "titleAlign": "center", "titleBaseline": "middle", "grid": true}},
      "y": {"field": "y", "type": "quantitative", "scale": {"domain": [10, 70], "range": [656.5, 79], "nice": false, "zero": false},
            "axis": {"values": [10,20,30,40,50,60,70], "offset": -125.6, "title": "L50 dB(A)", "titleX": -55, "titleY": 366, "titleAngle": -90, "titleAlign": "center", "titleBaseline": "middle", "grid": true}}
    },
    "layer": [
      {
        "data": {"name": "nuit"},
        "mark": {"type": "point", "filled": true, "size": 100, "opacity": 0.14, "color": "#000000", "xOffset": 2.5, "yOffset": 3.5}
      },
      {
        "data": {"name": "nuit"},
        "mark": {"type": "point", "filled": true, "size": 81, "opacity": 1, "stroke": "#5A88C8", "strokeWidth": 1},
        "encoding": {
          "color": {"datum": "Résiduel", "scale": {"domain": ["Résiduel", "Médiane"], "range": ["#7BA6DC", "#1F3B5E"]},
                    "legend": {"orient": "none", "legendX": 445, "legendY": 33, "direction": "horizontal", "columns": 2, "columnPadding": 307, "title": null, "symbolSize": 70, "symbolStrokeWidth": 0}},
          "shape": {"datum": "Résiduel", "scale": {"domain": ["Résiduel", "Médiane"], "range": ["circle", "M-1,-0.8L-0.2,0L-1,0.8L-0.8,1L0,0.2L0.8,1L1,0.8L0.2,0L1,-0.8L0.8,-1L0,-0.2L-0.8,-1Z"]},
                    "legend": {"orient": "none", "legendX": 445, "legendY": 33, "direction": "horizontal", "columns": 2, "columnPadding": 307, "title": null, "symbolSize": 70, "symbolStrokeWidth": 0}}
        }
      },
      {
        "data": {"name": "medN"},
        "mark": {"type": "point", "filled": true, "size": 576, "opacity": 1},
        "encoding": {
          "color": {"datum": "Médiane"},
          "shape": {"datum": "Médiane"}
        }
      },
      {
        "data": {"name": "purN"},
        "mark": {"type": "point", "filled": true, "size": 576, "opacity": 1, "color": "#7030A0", "shape": "M-1,-0.8L-0.2,0L-1,0.8L-0.8,1L0,0.2L0.8,1L1,0.8L0.2,0L1,-0.8L0.8,-1L0,-0.2L-0.8,-1Z"},
        "encoding": {}
      }
    ]
  }
]
}
